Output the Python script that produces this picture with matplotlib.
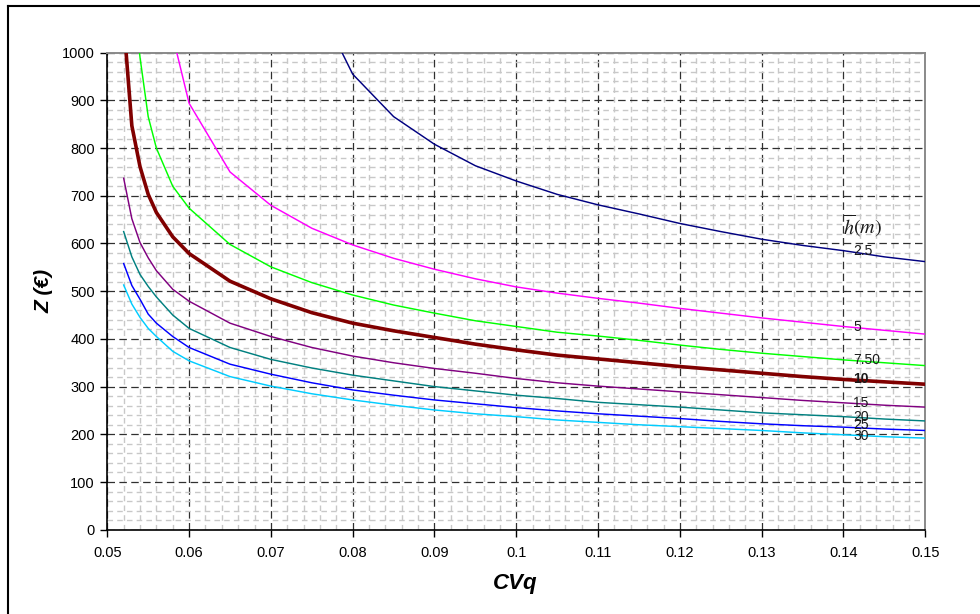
import numpy as np
import matplotlib
matplotlib.use("Agg")
import matplotlib.pyplot as plt
from matplotlib.lines import Line2D

plt.rcParams['font.family'] = ['Liberation Sans', 'DejaVu Sans']
plt.rcParams['mathtext.fontset'] = 'stix'

nan = np.nan

# CVq sample points
cvq = [0.052, 0.053, 0.054, 0.055, 0.056, 0.058, 0.060, 0.065, 0.070, 0.075,
       0.080, 0.085, 0.090, 0.095, 0.100, 0.105, 0.110, 0.115, 0.120, 0.125,
       0.130, 0.135, 0.140, 0.145, 0.150]

z_h2_5 = [nan, nan, nan, nan, nan, nan, nan, nan, nan, 1128,
          955, 866, 808, 763, 731, 703, 681, 662, 642, 625,
          609, 596, 585, 572, 562]
z_h5 = [nan, nan, nan, nan, nan, 1035, 894, 750, 680, 632,
        597, 569, 546, 526, 509, 496, 485, 475, 464, 454,
        444, 435, 426, 418, 410]
z_h7_5 = [nan, 1150, 990, 866, 800, 720, 674, 598, 551, 518,
          492, 471, 454, 438, 426, 414, 406, 397, 387, 378,
          370, 363, 356, 350, 344]
z_h10 = [1065, 847, 761, 703, 665, 614, 579, 521, 484, 455,
         433, 417, 403, 389, 377, 366, 358, 350, 342, 335,
         328, 321, 315, 310, 305]
z_h15 = [737, 652, 602, 570, 543, 504, 479, 433, 405, 382,
         364, 350, 338, 328, 317, 308, 301, 295, 289, 283,
         277, 271, 266, 261, 257]
z_h20 = [625, 572, 535, 510, 488, 450, 422, 382, 357, 339,
         324, 312, 300, 291, 282, 275, 267, 262, 257, 251,
         245, 241, 237, 232, 228]
z_h25 = [558, 512, 483, 452, 433, 405, 382, 347, 326, 308,
         293, 282, 272, 264, 256, 249, 243, 238, 233, 227,
         222, 218, 215, 211, 208]
z_h30 = [513, 473, 445, 422, 405, 374, 354, 321, 301, 285,
         272, 261, 251, 243, 237, 230, 225, 220, 216, 212,
         208, 203, 199, 195, 192]

series = [z_h2_5, z_h5, z_h7_5, z_h10, z_h15, z_h20, z_h25, z_h30]
labels = ['2.5', '5', '7.50', '10', '15', '20', '25', '30']
label_y = [584, 425, 356, 315, 265, 237, 220, 197]
colors = ['#000080', '#FF00FF', '#00FF00', '#800000', '#800080', '#008080', '#0000FF', '#00CCFF']
widths = [1.05, 1.05, 1.05, 2.6, 1.05, 1.05, 1.05, 1.05]

x_ticks = [0.05, 0.06, 0.07, 0.08, 0.09, 0.10, 0.11, 0.12, 0.13, 0.14, 0.15]
x_tick_labels = ['0.05', '0.06', '0.07', '0.08', '0.09', '0.1', '0.11', '0.12', '0.13', '0.14', '0.15']
y_ticks = [0, 100, 200, 300, 400, 500, 600, 700, 800, 900, 1000]

W, H = 980, 614
fig = plt.figure(figsize=(W / 100, H / 100), dpi=100)
ax = fig.add_axes([107.3 / W, 1 - 529.7 / H, (925.3 - 107.3) / W, (529.7 - 52.7) / H])

ax.set_xlim(0.05, 0.15)
ax.set_ylim(0, 1000)

# grid
ax.set_xticks(x_ticks)
ax.set_xticklabels(x_tick_labels)
ax.set_yticks(y_ticks)
ax.set_xticks(np.arange(0.05, 0.1501, 0.002), minor=True)
ax.set_yticks(np.arange(0, 1001, 20), minor=True)
ax.grid(which='minor', color='#c8c8c8', linestyle=(0, (4, 3)), linewidth=1.0, zorder=0)
ax.grid(which='major', color='#303030', linestyle=(0, (6, 3.5)), linewidth=0.9, zorder=1)
ax.set_axisbelow(True)

for z, c, lw in zip(series, colors, widths):
    ax.plot(cvq, z, color=c, linewidth=lw, zorder=3, solid_joinstyle='miter')

for lab, ly in zip(labels, label_y):
    ax.text(0.1412, ly, lab, fontsize=10, color='#1a1a1a', ha='left', va='center',
            fontweight='bold' if lab == '10' else 'normal', zorder=4)
ax.text(0.1400, 637, r'$\overline{h}(m)$', fontsize=14.5, color='#1a1a1a', ha='left',
        va='center', zorder=4)

ax.tick_params(which='major', direction='out', length=5, width=1, color='black',
               labelsize=10.5, pad=4)
ax.tick_params(which='minor', length=0)
ax.tick_params(axis='x', pad=7)

for s in ['left', 'bottom']:
    ax.spines[s].set_color('black')
    ax.spines[s].set_linewidth(1.2)
for s in ['top', 'right']:
    ax.spines[s].set_color('#8a8a8a')
    ax.spines[s].set_linewidth(1.4)

fig.text(44 / W, 1 - 291 / H, 'Z (€)', rotation=90, fontsize=15, fontweight='bold',
         fontstyle='italic', ha='center', va='center')
fig.text(515.7 / W, 1 - 583 / H, 'CVq', fontsize=16, fontweight='bold',
         fontstyle='italic', ha='center', va='center')

# outer frame (top and left edges visible)
fig.add_artist(Line2D([8 / W, 1], [1 - 6 / H, 1 - 6 / H], transform=fig.transFigure,
                      color='black', linewidth=1.5))
fig.add_artist(Line2D([8 / W, 8 / W], [0, 1 - 6 / H], transform=fig.transFigure,
                      color='black', linewidth=1.5))

fig.savefig('out.png', dpi=100)
